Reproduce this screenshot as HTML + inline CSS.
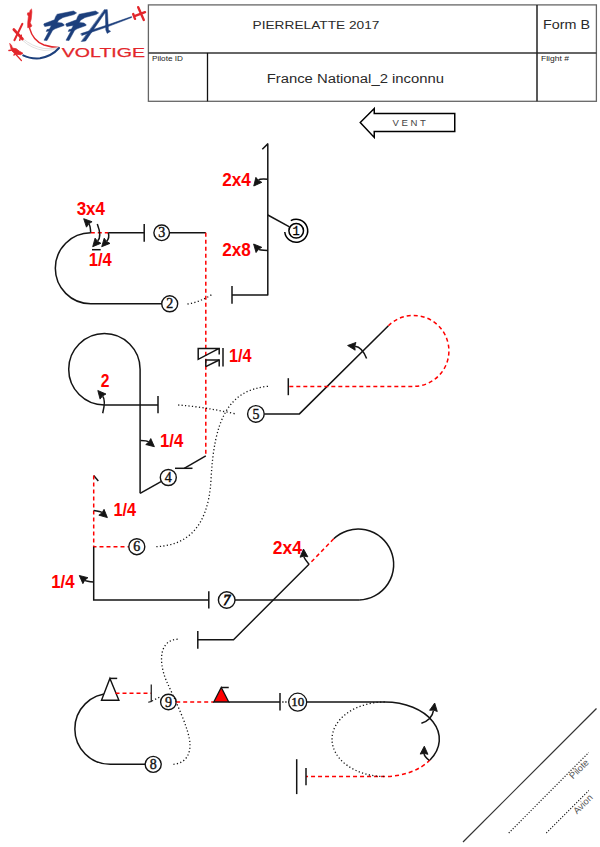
<!DOCTYPE html>
<html><head><meta charset="utf-8"><style>
html,body{margin:0;padding:0;background:#fff;}
svg{display:block;font-family:"Liberation Sans",sans-serif;}
</style></head><body>
<svg width="600" height="847" viewBox="0 0 600 847">
<rect x="148.4" y="4.9" width="448" height="96.4" fill="none" stroke="#666" stroke-width="1.3"/>
<path d="M148.40,52.90 L596.40,52.90" fill="none" stroke="#333" stroke-width="1.5" />
<path d="M537.00,4.90 L537.00,101.30" fill="none" stroke="#222" stroke-width="1.5" />
<path d="M207.50,52.90 L207.50,101.30" fill="none" stroke="#111" stroke-width="1.3" />
<text x="252.50" y="28.90" font-size="11.6" fill="#2a2a2a" textLength="127.00" lengthAdjust="spacingAndGlyphs" >PIERRELATTE 2017</text>
<text x="543.00" y="28.90" font-size="12" fill="#2a2a2a" textLength="47.00" lengthAdjust="spacingAndGlyphs" >Form B</text>
<text x="266.70" y="82.70" font-size="12" fill="#2a2a2a" textLength="177.30" lengthAdjust="spacingAndGlyphs" >France National_2 inconnu</text>
<text x="152.00" y="60.70" font-size="6.5" fill="#222" textLength="31.00" lengthAdjust="spacingAndGlyphs" >Pilote ID</text>
<text x="541.00" y="60.70" font-size="6.5" fill="#222" textLength="28.00" lengthAdjust="spacingAndGlyphs" >Flight #</text>
<path d="M360.25,122.5 L374.25,108.5 L374.25,113.4 L454.75,113.4 L454.75,131.6 L374.25,131.6 L374.25,137.4 Z" fill="#fff" stroke="#000" stroke-width="1.5"/>
<text x="392.6" y="126" font-size="9.6" fill="#444" textLength="33.3" lengthAdjust="spacing">VENT</text>
<path d="M262.30,149.20 L267.80,143.90 L267.80,295.00 L232.00,295.00" fill="none" stroke="#141414" stroke-width="1.5" stroke-linejoin="round"/>
<path d="M232.00,286.00 L232.00,303.80" fill="none" stroke="#141414" stroke-width="1.5" />
<path d="M267.80,215.00 L289.50,226.80" fill="none" stroke="#141414" stroke-width="1.5" />
<circle cx="296.2" cy="230.8" r="7.3" fill="#fff" stroke="#000" stroke-width="1.5"/>
<text x="296.2" y="234.6" font-size="12" text-anchor="middle" fill="#000" font-family="Liberation Mono" stroke="#000" stroke-width="0.3">1</text>
<path d="M290.80,220.65 A11.5,11.5 0 1 1 284.76,232.00" fill="none" stroke="#000" stroke-width="1.5"/>
<path d="M267.80,179.30 Q260.00,178.50 258.55,180.24" fill="none" stroke="#141414" stroke-width="1.5"/>
<path d="M253.75,186.00 L255.88,177.36 L258.36,180.47 L261.87,182.35 Z" fill="#141414" stroke="#141414" stroke-width="0.9" stroke-linejoin="round"/>
<path d="M267.80,250.50 Q259.00,250.00 258.62,249.57" fill="none" stroke="#141414" stroke-width="1.5"/>
<path d="M253.60,244.00 L261.85,247.34 L258.42,249.35 L256.05,252.56 Z" fill="#141414" stroke="#141414" stroke-width="0.9" stroke-linejoin="round"/>
<text x="222.30" y="185.70" font-size="17.5" font-weight="bold" fill="#ff0000" textLength="28.60" lengthAdjust="spacingAndGlyphs" >2x4</text>
<text x="222.30" y="256.10" font-size="17.5" font-weight="bold" fill="#ff0000" textLength="28.60" lengthAdjust="spacingAndGlyphs" >2x8</text>
<path d="M90.80,232.80 L108.30,232.80" fill="none" stroke="#ff0000" stroke-width="1.5" stroke-dasharray="4,3" />
<path d="M108.30,232.80 L144.20,232.80" fill="none" stroke="#141414" stroke-width="1.5" />
<path d="M169.50,232.80 L205.80,232.80" fill="none" stroke="#141414" stroke-width="1.5" />
<path d="M144.20,224.00 L144.20,241.70" fill="none" stroke="#141414" stroke-width="1.5" />
<path d="M205.80,232.80 L205.80,455.80" fill="none" stroke="#ff0000" stroke-width="1.5" stroke-dasharray="4,3" />
<path d="M90.8,232.8 A35.5,35.5 0 0 0 90.8,303.8 L162,303.8" fill="none" stroke="#141414" stroke-width="1.5" />
<circle cx="161.7" cy="232.8" r="7.8" fill="#fff" stroke="#141414" stroke-width="1.4"/>
<text x="161.7" y="237.40" font-size="13.6" font-family="Liberation Serif" text-anchor="middle" fill="#141414" stroke="#141414" stroke-width="0.4" textLength="7" lengthAdjust="spacingAndGlyphs">3</text>
<circle cx="169.7" cy="303.8" r="8" fill="#fff" stroke="#141414" stroke-width="1.4"/>
<text x="169.7" y="308.40" font-size="13.6" font-family="Liberation Serif" text-anchor="middle" fill="#141414" stroke="#141414" stroke-width="0.4" textLength="7" lengthAdjust="spacingAndGlyphs">2</text>
<text x="76.70" y="214.70" font-size="17.5" font-weight="bold" fill="#ff0000" textLength="28.30" lengthAdjust="spacingAndGlyphs" >3x4</text>
<text x="88.70" y="265.80" font-size="17.5" font-weight="bold" fill="#ff0000" textLength="23.00" lengthAdjust="spacingAndGlyphs" >1/4</text>
<path d="M90.70,232.50 Q90.30,225.50 88.92,224.08" fill="none" stroke="#141414" stroke-width="1.5"/>
<path d="M83.70,218.70 L92.07,221.72 L88.71,223.87 L86.47,227.16 Z" fill="#141414" stroke="#141414" stroke-width="0.9" stroke-linejoin="round"/>
<path d="M97.30,224.00 Q102.00,236.20 97.67,241.09" fill="none" stroke="#141414" stroke-width="1.5"/>
<path d="M92.70,246.70 L95.08,238.13 L97.47,241.31 L100.92,243.30 Z" fill="#141414" stroke="#141414" stroke-width="0.9" stroke-linejoin="round"/>
<path d="M108.30,232.70 Q109.80,237.80 106.75,241.15" fill="none" stroke="#141414" stroke-width="1.5"/>
<path d="M101.70,246.70 L104.20,238.16 L106.55,241.38 L109.97,243.41 Z" fill="#141414" stroke="#141414" stroke-width="0.9" stroke-linejoin="round"/>
<path d="M92.00,249.70 L100.70,249.70" fill="none" stroke="#141414" stroke-width="1.5" />
<path d="M219.20,354.60 L219.20,348.40 L198.20,348.40 L198.20,359.30 L219.20,348.40" fill="none" stroke="#141414" stroke-width="1.5" />
<path d="M205.80,366.60 L205.80,360.00 L219.20,360.00 L219.20,366.60" fill="none" stroke="#141414" stroke-width="1.5" />
<path d="M205.80,366.60 L219.20,360.00" fill="none" stroke="#141414" stroke-width="1.5" />
<path d="M223.00,348.00 L223.00,366.60" fill="none" stroke="#141414" stroke-width="1.5" />
<text x="229.00" y="361.80" font-size="17.5" font-weight="bold" fill="#ff0000" textLength="22.60" lengthAdjust="spacingAndGlyphs" >1/4</text>
<path d="M140.1,493.3 L140.1,369.3 A35.7,35.7 0 1 0 104.4,405 L158,405" fill="none" stroke="#141414" stroke-width="1.5" />
<path d="M158.00,396.00 L158.00,413.30" fill="none" stroke="#141414" stroke-width="1.5" />
<path d="M140.10,493.30 L161.00,481.70" fill="none" stroke="#141414" stroke-width="1.5" />
<circle cx="168.3" cy="477.5" r="8" fill="#fff" stroke="#141414" stroke-width="1.4"/>
<text x="168.3" y="482.10" font-size="13.6" font-family="Liberation Serif" text-anchor="middle" fill="#141414" stroke="#141414" stroke-width="0.4" textLength="7" lengthAdjust="spacingAndGlyphs">4</text>
<path d="M175.00,468.30 L192.50,468.30" fill="none" stroke="#141414" stroke-width="1.5" />
<path d="M184.20,468.30 L205.80,455.80" fill="none" stroke="#141414" stroke-width="1.5" />
<text x="100.80" y="386.80" font-size="17.5" font-weight="bold" fill="#ff0000" textLength="8.70" lengthAdjust="spacingAndGlyphs" >2</text>
<path d="M102.70,413.20 Q106.00,400.00 102.70,396.18" fill="none" stroke="#141414" stroke-width="1.5"/>
<path d="M97.80,390.50 L105.98,394.01 L102.50,395.95 L100.07,399.10 Z" fill="#141414" stroke="#141414" stroke-width="0.9" stroke-linejoin="round"/>
<text x="160.00" y="446.70" font-size="17.5" font-weight="bold" fill="#ff0000" textLength="23.30" lengthAdjust="spacingAndGlyphs" >1/4</text>
<path d="M140.50,440.40 Q147.00,440.50 148.65,441.88" fill="none" stroke="#141414" stroke-width="1.5"/>
<path d="M154.40,446.70 L145.76,444.55 L148.88,442.08 L150.77,438.57 Z" fill="#141414" stroke="#141414" stroke-width="0.9" stroke-linejoin="round"/>
<path d="M264.40,413.90 L299.40,413.90 L388.40,325.70" fill="none" stroke="#141414" stroke-width="1.5" />
<path d="M388.4,325.7 A35.5,35.5 0 1 1 413.5,386.4 L288.3,386.4" fill="none" stroke="#ff0000" stroke-width="1.5" stroke-dasharray="4,3" />
<path d="M288.30,378.20 L288.30,395.20" fill="none" stroke="#141414" stroke-width="1.5" />
<circle cx="255.9" cy="413.9" r="8.3" fill="#fff" stroke="#141414" stroke-width="1.4"/>
<text x="255.9" y="418.50" font-size="13.6" font-family="Liberation Serif" text-anchor="middle" fill="#141414" stroke="#141414" stroke-width="0.4" textLength="7" lengthAdjust="spacingAndGlyphs">5</text>
<path d="M366.60,358.50 Q362.00,347.00 355.06,346.28" fill="none" stroke="#141414" stroke-width="1.5"/>
<path d="M347.60,345.50 L355.96,342.45 L354.76,346.25 L355.15,350.21 Z" fill="#141414" stroke="#141414" stroke-width="0.9" stroke-linejoin="round"/>
<path d="M98.30,480.90 L93.70,475.50" fill="none" stroke="#141414" stroke-width="1.5" />
<path d="M93.70,475.50 L93.70,546.70 L128.80,546.70" fill="none" stroke="#ff0000" stroke-width="1.5" stroke-dasharray="4,3" />
<path d="M93.70,546.70 L93.70,600.00 L208.80,600.00" fill="none" stroke="#141414" stroke-width="1.5" />
<path d="M235.00,600.00 L359.20,600.00" fill="none" stroke="#141414" stroke-width="1.5" />
<circle cx="136.8" cy="546.7" r="8" fill="#fff" stroke="#141414" stroke-width="1.4"/>
<text x="136.8" y="551.30" font-size="13.6" font-family="Liberation Serif" text-anchor="middle" fill="#141414" stroke="#141414" stroke-width="0.4" textLength="7" lengthAdjust="spacingAndGlyphs">6</text>
<path d="M93.70,510.60 Q100.60,511.50 101.82,512.59" fill="none" stroke="#141414" stroke-width="1.5"/>
<path d="M107.40,517.60 L98.84,515.16 L102.04,512.79 L104.05,509.35 Z" fill="#141414" stroke="#141414" stroke-width="0.9" stroke-linejoin="round"/>
<text x="113.50" y="516.30" font-size="17.5" font-weight="bold" fill="#ff0000" textLength="22.60" lengthAdjust="spacingAndGlyphs" >1/4</text>
<path d="M93.70,581.90 Q86.40,581.50 85.03,580.34" fill="none" stroke="#141414" stroke-width="1.5"/>
<path d="M79.30,575.50 L87.93,577.68 L84.80,580.15 L82.89,583.64 Z" fill="#141414" stroke="#141414" stroke-width="0.9" stroke-linejoin="round"/>
<text x="51.20" y="587.50" font-size="17.5" font-weight="bold" fill="#ff0000" textLength="23.30" lengthAdjust="spacingAndGlyphs" >1/4</text>
<path d="M208.80,591.30 L208.80,608.60" fill="none" stroke="#141414" stroke-width="1.5" />
<circle cx="226.7" cy="600" r="8.3" fill="#fff" stroke="#141414" stroke-width="1.4"/>
<text x="226.7" y="604.60" font-size="13.6" font-family="Liberation Serif" text-anchor="middle" fill="#141414" stroke="#141414" stroke-width="0.9" textLength="7" lengthAdjust="spacingAndGlyphs" font-style="italic">7</text>
<path d="M359.2,600 A35.5,35.5 0 1 0 333.7,538.8" fill="none" stroke="#141414" stroke-width="1.5" />
<path d="M333.70,538.80 L309.00,564.30" fill="none" stroke="#ff0000" stroke-width="1.5" stroke-dasharray="4,3" />
<path d="M309.00,564.30 L233.50,639.70 L197.80,639.70" fill="none" stroke="#141414" stroke-width="1.5" />
<path d="M197.80,631.00 L197.80,648.70" fill="none" stroke="#141414" stroke-width="1.5" />
<text x="272.80" y="553.80" font-size="17.5" font-weight="bold" fill="#ff0000" textLength="29.20" lengthAdjust="spacingAndGlyphs" >2x4</text>
<path d="M309.00,564.30 Q304.00,558.00 303.92,556.49" fill="none" stroke="#141414" stroke-width="1.5"/>
<path d="M303.50,549.00 L307.84,556.77 L303.90,556.19 L300.05,557.20 Z" fill="#141414" stroke="#141414" stroke-width="0.9" stroke-linejoin="round"/>
<path d="M145,764.3 L110.2,764.3 A35.4,35.4 0 0 1 110.2,693.5" fill="none" stroke="#141414" stroke-width="1.5" />
<circle cx="153.2" cy="764.4" r="8" fill="#fff" stroke="#141414" stroke-width="1.4"/>
<text x="153.2" y="769.00" font-size="13.6" font-family="Liberation Serif" text-anchor="middle" fill="#141414" stroke="#141414" stroke-width="0.4" textLength="7" lengthAdjust="spacingAndGlyphs">8</text>
<path d="M101.5,700.3 L118.9,700.3 L109.9,678.4 Z" fill="#fff" stroke="#111" stroke-width="1.4"/>
<path d="M109.90,678.40 L117.20,678.40" fill="none" stroke="#141414" stroke-width="1.5" />
<path d="M115.50,693.20 L151.25,693.20" fill="none" stroke="#ff0000" stroke-width="1.5" stroke-dasharray="4,3" />
<path d="M151.25,684.50 L151.25,701.50 L148.25,702.25" fill="none" stroke="#141414" stroke-width="1.2" />
<circle cx="168.4" cy="702" r="7.8" fill="#fff" stroke="#141414" stroke-width="1.4"/>
<text x="168.4" y="706.60" font-size="13.6" font-family="Liberation Serif" text-anchor="middle" fill="#141414" stroke="#141414" stroke-width="0.4" textLength="7" lengthAdjust="spacingAndGlyphs">9</text>
<path d="M176.20,702.00 L213.75,702.00" fill="none" stroke="#ff0000" stroke-width="1.5" stroke-dasharray="4,3" />
<path d="M213.75,702 L228.75,702 L221.25,687.5 Z" fill="#ff0000" stroke="#111" stroke-width="1.3"/>
<path d="M221.25,687.50 L228.75,687.50" fill="none" stroke="#141414" stroke-width="1.5" />
<path d="M228.75,702.00 L280.00,702.00" fill="none" stroke="#141414" stroke-width="1.5" />
<path d="M280.00,693.00 L280.00,710.50" fill="none" stroke="#141414" stroke-width="1.5" />
<path d="M282.3,702 L290,702" stroke="#000" stroke-width="1.3" stroke-dasharray="1.2,1.8" fill="none"/>
<circle cx="297.7" cy="702.2" r="9.0" fill="#fff" stroke="#141414" stroke-width="1.3"/>
<text x="297.7" y="706.40" font-size="11.5" font-family="Liberation Serif" text-anchor="middle" fill="#141414" stroke="#141414" stroke-width="0.4" textLength="13" lengthAdjust="spacingAndGlyphs">10</text>
<path d="M307,702 L384.7,702 A54.6,37.2 0 0 1 430,760" fill="none" stroke="#141414" stroke-width="1.5" />
<path d="M430,760 A54.6,37.2 0 0 1 384.7,776.5 L306,776.5" fill="none" stroke="#ff0000" stroke-width="1.5" stroke-dasharray="4,3" />
<path d="M306.00,768.00 L306.00,785.30" fill="none" stroke="#141414" stroke-width="1.5" />
<path d="M296.70,759.20 L296.70,794.10" fill="none" stroke="#141414" stroke-width="1.5" />
<path d="M384.7,702 A52.6,37.2 0 0 0 384.7,776.5" fill="none" stroke="#141414" stroke-width="1.3" stroke-dasharray="1.2,2.3"/>
<path d="M421.40,723.20 Q432.00,720.00 433.52,710.41" fill="none" stroke="#141414" stroke-width="1.5"/>
<path d="M434.70,703.00 L437.30,711.51 L433.57,710.11 L429.59,710.29 Z" fill="#141414" stroke="#141414" stroke-width="0.9" stroke-linejoin="round"/>
<path d="M429.40,760.50 Q424.00,756.00 424.07,753.70" fill="none" stroke="#141414" stroke-width="1.5"/>
<path d="M424.30,746.20 L427.95,754.32 L424.08,753.40 L420.16,754.08 Z" fill="#141414" stroke="#141414" stroke-width="0.9" stroke-linejoin="round"/>
<path d="M187.5,304 Q200,302 211.7,294.7" fill="none" stroke="#141414" stroke-width="1.3" stroke-dasharray="1.2,2.3"/>
<path d="M178.2,405 Q205,407 235.3,413.9" fill="none" stroke="#141414" stroke-width="1.3" stroke-dasharray="1.2,2.3"/>
<path d="M268,386.3 C228,390 214,420 211,480 C208,530 185,546 154.3,546.7" fill="none" stroke="#141414" stroke-width="1.3" stroke-dasharray="1.2,2.3"/>
<path d="M177.7,639.2 C160,640 158,660 166,680 C175,700 190,730 190,745 C190,760 180,764 173,764.3" fill="none" stroke="#141414" stroke-width="1.3" stroke-dasharray="1.2,2.3"/>
<path d="M152,701 L161,696.4" fill="none" stroke="#141414" stroke-width="1.3" stroke-dasharray="1.2,2.3"/>
<path d="M463.00,842.00 L596.50,708.50" fill="none" stroke="#333" stroke-width="1.2" />
<path d="M508.75,833 L588.75,752.5" stroke="#222" stroke-width="1.2" stroke-dasharray="1.2,1.63" fill="none"/>
<path d="M546.25,833 L588.75,790.5" stroke="#222" stroke-width="1.2" stroke-dasharray="1.2,1.63" fill="none"/>
<text x="0" y="0" font-size="9.3" fill="#555" transform="translate(573,779.5) rotate(-45)">Pilote</text>
<text x="0" y="0" font-size="9.3" fill="#555" transform="translate(577,814.5) rotate(-45)">Avion</text>

<g stroke-linecap="round" stroke-linejoin="round">
 <path d="M29.5,28 Q33,41 44,45 Q52,47.5 59,47.5" fill="none" stroke="#e3262b" stroke-width="1.4"/>
 <path d="M23,38.7 Q32,46.5 44,48.5 Q53,49 59,47.5" fill="none" stroke="#dcdcdc" stroke-width="0.9"/>
 <path d="M22.5,40.2 Q31,48.5 44,50.5 Q53,50.5 59,47.8" fill="none" stroke="#dcdcdc" stroke-width="0.9"/>
 <path d="M23.2,55.4 Q30,59 40,58.3 Q52,56 59,48" fill="none" stroke="#1c3f7c" stroke-width="2.0"/>
 <path d="M31.6,9.3 L31.9,12.1 L31.2,19.2 L30.2,22.7 L31.9,25.9 L30.5,27.3 L27.7,27.7 L27.7,22.7 L28.4,16.3 L27.3,14.2 L27.7,12.8 L29.5,12.8 L30.2,10.3 Z" fill="#e3262b" stroke="#e3262b" stroke-width="0.6"/>
 <path d="M22.5,39 L13.8,29.5" stroke="#e3262b" stroke-width="2.6" fill="none"/>
 <path d="M22.4,23.8 L14.4,40.2" stroke="#e3262b" stroke-width="2.0" fill="none"/>
 <path d="M21.3,35.3 L19.7,40.3" stroke="#e3262b" stroke-width="1.5" fill="none"/>
 <path d="M10,43.7 L11.6,45.5 L12.3,48 L16.3,48.8 L19.5,51.3 L22.9,53.2 L20.7,54.7 L15.9,54.3 L13.7,55.4 L14.4,53.2 L11.5,50.6 L10.8,48 Z" fill="#e3262b" stroke="#e3262b" stroke-width="0.8"/>
 <path d="M15.9,54.5 L21.4,60.5" stroke="#e3262b" stroke-width="1.2" fill="none"/>
 <path d="M8.9,50.5 L11,50.3" stroke="#e3262b" stroke-width="1.4" fill="none"/>
 <path d="M57.25,14.25 L73.50,11.00 L76.60,12.90 L74.00,14.60 L63.00,17.50 L58.50,20.25 L57.30,22.50 L62.00,23.00 L64.25,24.75 L64.00,25.50 L55.00,28.80 L52.50,30.50 L47.00,40.60 L44.00,40.20 L49.00,31.00 L46.25,31.50 L47.00,29.50 L49.50,29.00 L51.30,25.40 L44.75,26.50 L43.75,24.60 L44.00,23.75 L54.50,19.75 L55.50,17.00 Z" fill="#1c3f7c" stroke="#1c3f7c" stroke-width="0.5"/>
 <path d="M79.25,14.25 L95.50,11.00 L98.60,12.90 L96.00,14.60 L85.00,17.50 L80.50,20.25 L79.30,22.50 L84.00,23.00 L86.25,24.75 L86.00,25.50 L77.00,28.80 L74.50,30.50 L69.00,40.60 L66.00,40.20 L71.00,31.00 L68.25,31.50 L69.00,29.50 L71.50,29.00 L73.30,25.40 L66.75,26.50 L65.75,24.60 L66.00,23.75 L76.50,19.75 L77.50,17.00 Z" fill="#1c3f7c" stroke="#1c3f7c" stroke-width="0.5"/>
 <path d="M81.50,41.50 L85.60,41.00 L106.60,10.60 L104.60,9.80 Z" fill="#1c3f7c" stroke="#1c3f7c" stroke-width="0.5"/>
 <path d="M104.60,10.00 L107.20,9.60 L107.60,14.00 L108.40,30.00 L110.60,31.30 L107.20,33.40 L105.80,30.00 L105.40,14.00 Z" fill="#1c3f7c" stroke="#1c3f7c" stroke-width="0.5"/>
 <path d="M81.00,33.60 L95.00,29.00 L108.00,24.80 L131.50,16.60 L131.70,17.50 L108.00,26.60 L95.00,31.00 L82.00,35.40 Z" fill="#1c3f7c" stroke="#1c3f7c" stroke-width="0.5"/>
 <path d="M138.2,7.2 L143.8,20 M134.5,16.2 L145,12.2 M133.2,14 L135,18.8" stroke="#e3262b" stroke-width="2.4" fill="none"/>
</g>

<text x="61.80" y="57.20" font-size="13.6" fill="#e3262b" textLength="83.20" lengthAdjust="spacingAndGlyphs" stroke="#e3262b" stroke-width="0.25">VOLTIGE</text>
</svg>
</body></html>
